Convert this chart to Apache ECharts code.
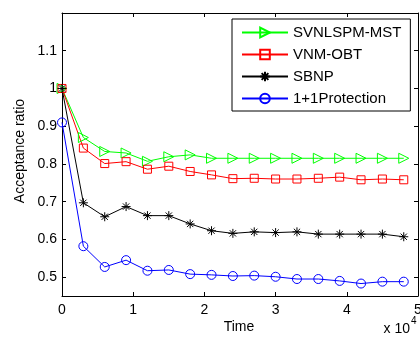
<!DOCTYPE html>
<html>
<head>
<meta charset="utf-8">
<script src="https://cdn.jsdelivr.net/npm/echarts@6/dist/echarts.min.js"></script>
<style>html,body{margin:0;padding:0;background:#fff;}#c{width:420px;height:340px;}</style>
</head>
<body>
<div id="c"></div>
<script>
const times = [0,3000,6000,9000,12000,15000,18000,21000,24000,27000,30000,33000,36000,39000,42000,45000,48000];
const svnlspm = [1.0,0.870,0.833,0.829,0.807,0.819,0.824,0.815,0.815,0.815,0.815,0.815,0.815,0.815,0.815,0.815,0.815];
const vnmobt = [1.0,0.842,0.801,0.806,0.786,0.794,0.780,0.771,0.761,0.762,0.760,0.760,0.762,0.765,0.758,0.760,0.758];
const sbnp = [1.0,0.697,0.660,0.687,0.663,0.663,0.641,0.623,0.616,0.620,0.618,0.620,0.614,0.614,0.614,0.614,0.607];
const prot = [0.91,0.582,0.527,0.545,0.517,0.519,0.508,0.506,0.503,0.504,0.501,0.495,0.495,0.490,0.483,0.488,0.488];
const seriesNames = ['SVNLSPM-MST','VNM-OBT','SBNP','1+1Protection'];
const yTicks = [0.5,0.6,0.7,0.8,0.9,1.0,1.1];
const xTicks = [0,10000,20000,30000,40000,50000];

const FONT = 'Liberation Sans, Arial, sans-serif';
const pairs = arr => arr.map((v,i)=>[times[i], v]);
const star = 'path://M5,0L5,10M0,5L10,5M1.5,1.5L8.5,8.5M8.5,1.5L1.5,8.5';
const T = 'rgba(0,0,0,0)';
function mk(name, data, color, symbol, size, rot){
  return {
    name: name, type:'line', data: pairs(data),
    symbol: symbol, symbolSize: size, symbolRotate: rot||0,
    lineStyle:{color:color, width:1},
    itemStyle:{color:T, borderColor:color, borderWidth:1},
    emphasis:{disabled:true}, animation:false
  };
}
const chart = echarts.init(document.getElementById('c'), null, {renderer:'canvas'});
const axisLine = {show:true, onZero:false, lineStyle:{color:'#000', width:1}};
chart.setOption({
  animation:false,
  backgroundColor:'#fff',
  grid:{left:62, top:13, width:356, height:283, containLabel:false, outerBoundsMode:'none'},
  legend:{
    orient:'vertical', left:232, top:19,
    padding:[6,9,5,9], itemGap:7, itemWidth:46, itemHeight:12,
    backgroundColor:'#fff', borderColor:'#000', borderWidth:1, borderRadius:0,
    textStyle:{fontSize:15, fontFamily:FONT, color:'#000'},
    data: seriesNames
  },
  xAxis:[
    {type:'value', position:'bottom', min:xTicks[0], max:xTicks[xTicks.length-1], interval:10000,
     axisLine:axisLine, axisTick:{inside:true, length:4, lineStyle:{color:'#000'}},
     splitLine:{show:false},
     axisLabel:{margin:7, fontSize:14, fontFamily:FONT, color:'#000', formatter:v=>String(v/10000)}},
    {type:'value', position:'top', min:xTicks[0], max:xTicks[xTicks.length-1], interval:10000,
     axisLine:axisLine, axisTick:{inside:true, length:4, lineStyle:{color:'#000'}},
     splitLine:{show:false}, axisLabel:{show:false}}
  ],
  yAxis:[
    {type:'value', position:'left', min:0.45, max:1.2, interval:0.05,
     axisLine:axisLine, splitLine:{show:false},
     axisTick:{inside:true, length:4, customValues:yTicks, lineStyle:{color:'#000'}},
     axisLabel:{margin:5, fontSize:14, fontFamily:FONT, color:'#000', customValues:yTicks,
       formatter:v=>String(parseFloat(Number(v).toFixed(2)))}},
    {type:'value', position:'right', min:0.45, max:1.2, interval:0.05,
     axisLine:axisLine, splitLine:{show:false},
     axisTick:{inside:true, length:4, customValues:yTicks, lineStyle:{color:'#000'}},
     axisLabel:{show:false}}
  ],
  series:[
    mk(seriesNames[0], svnlspm, '#00ff00', 'triangle', 10, -90),
    mk(seriesNames[1], vnmobt, '#ff0000', 'rect', 8),
    mk(seriesNames[2], sbnp, '#000000', star, 9),
    mk(seriesNames[3], prot, '#0000ff', 'circle', 9)
  ],
  graphic:[
    {type:'text', x:20, y:151, rotation:Math.PI/2,
     style:{text:'Acceptance ratio', font:'14px '+FONT, fontSize:14, fontFamily:FONT, fill:'#000',
       align:'center', verticalAlign:'middle', textAlign:'center', textVerticalAlign:'middle'}},
    {type:'text', x:239, y:327,
     style:{text:'Time', font:'14px '+FONT, fontSize:14, fontFamily:FONT, fill:'#000',
       align:'center', verticalAlign:'middle', textAlign:'center', textVerticalAlign:'middle'}},
    {type:'text', x:410, y:329,
     style:{text:'x 10', font:'14px '+FONT, fontSize:14, fontFamily:FONT, fill:'#000',
       align:'right', verticalAlign:'middle', textAlign:'right', textVerticalAlign:'middle'}},
    {type:'text', x:411, y:321,
     style:{text:'4', font:'10px '+FONT, fontSize:10, fontFamily:FONT, fill:'#000',
       align:'left', verticalAlign:'middle', textAlign:'left', textVerticalAlign:'middle'}}
  ]
});
</script>
</body>
</html>
